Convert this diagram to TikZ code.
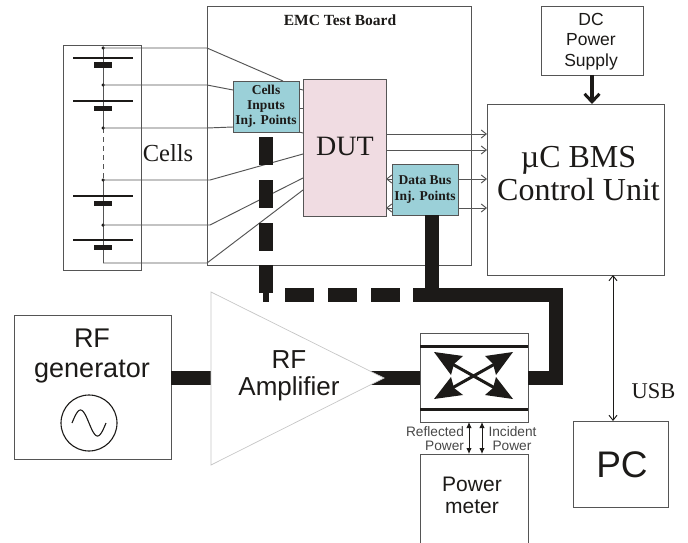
\documentclass[tikz,border=0pt]{standalone}
\usepackage{fontspec}
\setmainfont{Liberation Serif}
\setsansfont{Liberation Sans}
\usetikzlibrary{arrows.meta,calc}
\definecolor{teal1}{RGB}{155,208,216}
\definecolor{pink1}{RGB}{240,220,226}
\definecolor{ink}{RGB}{28,26,24}
\definecolor{wire}{RGB}{85,85,85}
\newcommand{\fs}[1]{\fontsize{#1}{#1}\selectfont}
\tikzset{
  box/.style={draw=wire,line width=0.85pt,inner sep=0pt,outer sep=0pt,fill=white,align=center},
  inj/.style={box,fill=teal1,text=ink,font=\rmfamily\bfseries\fs{13.5}},
  wireline/.style={draw=wire,line width=0.95pt},
  sig/.style={wireline,-{Straight Barb[length=5pt,width=8pt,line width=0.95pt]}},
  sigb/.style={wireline,{Straight Barb[length=5pt,width=8pt,line width=0.95pt]}-{Straight Barb[length=5pt,width=8pt,line width=0.95pt]}},
  power/.style={draw=ink,line width=14pt},
  dashbar/.style={fill=ink,inner sep=0pt,outer sep=0pt,minimum width=14pt,minimum height=28pt},
  dashbarh/.style={fill=ink,inner sep=0pt,outer sep=0pt,minimum width=29pt,minimum height=14pt},
  plate/.style={draw=ink,line width=1.2pt},
  neg/.style={fill=ink,inner sep=0pt,outer sep=0pt,minimum width=18pt,minimum height=5.5pt},
  dotn/.style={circle,fill=ink,inner sep=0pt,minimum size=3.5pt},
  head/.style={fill=ink,draw=none},
  pow/.style={draw=ink,line width=1pt,{Latex[length=6pt,width=5.5pt]}-{Latex[length=6pt,width=5.5pt]}}
}
\begin{document}
\begin{tikzpicture}[x=1pt,y=-1pt]
\useasboundingbox (0,0) rectangle (688,543);
% boards
\node[box,minimum width=264pt,minimum height=259pt] (emc) at (339,135.5) {};
\node[font=\rmfamily\bfseries\fs{15.5},text=ink] (emclabel) at (340,20) {EMC Test Board};
\node[box,minimum width=78pt,minimum height=225pt,fill=none] (cellbox) at (102,157.5) {};
\node[font=\rmfamily\fs{24.5},text=ink] (cellslabel) at (168,153) {Cells};
% coordinates on the battery stack
\coordinate (n1) at (103,48);
\coordinate (n2) at (103,85);
\coordinate (n3) at (103,128);
\coordinate (n4) at (103,180);
\coordinate (n5) at (103,225);
\coordinate (n6) at (103,263);
% battery stack
\draw[wireline] (n1) -- (n3);
\draw[wireline,dashed,dash pattern=on 5pt off 4pt] (n3) -- (n4);
\draw[wireline] (n4) -- (n6);
\foreach \ly/\sy in {58/65,101/108.5,196/203.5,240/247.5}{
  \draw[plate] (73,\ly) -- (133,\ly);
  \node[neg] at (103,\sy) {};
}
\foreach \n in {n1,n2,n3,n4,n5}{\node[dotn] at (\n) {};}
% boxes
\node[box,fill=pink1,minimum width=83pt,minimum height=137pt,inner sep=0pt] (dut) at (344.5,147.5) {};
\node[font=\rmfamily\fs{28},text=ink] (duttext) at (345,146) {DUT};
\node[inj,minimum width=66pt,minimum height=51pt] (cinj) at (266,106.5) {Cells\\[1.5pt]Inputs\\[1.5pt]Inj. Points};
\node[inj,minimum width=66pt,minimum height=51pt] (dinj) at (425,189.5) {Data Bus\\[3pt]Inj. Points};
\node[box,minimum width=177pt,minimum height=171pt] (ctl) at (575.5,189.5) {};
\node[font=\rmfamily\fs{32},text=ink,align=center] (ctltext) at (578.5,173.5) {\textmu C BMS\\[1pt]Control Unit};
\node[box,minimum width=102pt,minimum height=69pt] (dc) at (592,40.5) {};
\node[font=\sffamily\fs{17.5},text=ink,align=center] (dctext) at (591,41.5) {DC\\[3pt]Power\\[3pt]Supply};
% cell wires
\coordinate (b1) at (207,48);
\coordinate (b2) at (207,85);
\coordinate (b3) at (207,128);
\coordinate (b4) at (210,180);
\coordinate (b5) at (210,225);
\coordinate (b6) at (207,263);
\draw[wireline] (n1) -- (b1) -- (283,81);
\draw[wireline] (n2) -- (b2) -- (cinj.west |- 0,90);
\draw[wireline] (n3) -- (b3) -- (cinj.west |- 0,127);
\draw[wireline] (n4) -- (b4) -- (dut.west |- 0,154);
\draw[wireline] (n5) -- (b5) -- (dut.west |- 0,178);
\draw[wireline] (n6) -- (b6) -- (dut.west |- 0,190);
\draw[wireline] (cinj.east |- 0,89) -- (dut.west |- 0,90);
\draw[wireline] (cinj.east |- 0,108) -- (dut.west |- 0,108);
\draw[wireline] (cinj.east |- 0,132) -- (dut.west |- 0,133);
% signal lines
\draw[sig] (dut.east |- 0,134) -- (ctl.west |- 0,134);
\draw[sig] (dut.east |- 0,150) -- (ctl.west |- 0,150);
\draw[sig] (dinj.east |- 0,179) -- (ctl.west |- 0,179);
\draw[sig] (dinj.east |- 0,208) -- (ctl.west |- 0,208);
\draw[sig] (dinj.west |- 0,179) -- (dut.east |- 0,179);
\draw[sig] (dinj.west |- 0,208) -- (dut.east |- 0,208);
\draw[draw=ink,line width=3.5pt,-{Straight Barb[length=8pt,width=15pt,line width=3pt]}] (dc.south) -- (dc.south |- ctl.north);
% amplifier / generator / coupler
\node[box,minimum width=157pt,minimum height=144pt,anchor=north] (gen) at (92.5,315) {};
\node[font=\sffamily\fs{27},text=ink,align=center] (gentext) at (92,356) {RF\\[3pt]generator};
\node[draw=ink,line width=1.1pt,circle,minimum size=56pt,inner sep=0pt] (sine) at (89,423) {};
\draw[draw=ink,line width=1.1pt,domain=0:360,samples=50,smooth] plot ({72+\x/360*34},{423-13*sin(\x)});
\node[box,minimum width=108pt,minimum height=89pt] (coupler) at (474,377.5) {};
\coordinate (busc) at (556,295);
\draw[power] (gen.east |- 0,378) -- (300,378);
\draw[power] (370,378) -- (coupler.west |- 0,378);
\draw[power] (coupler.east |- 0,378) -- (556,378) -- (busc) -- (413,295);
\draw[power] (dinj.south) ++(7,0) -- (432,295);
% dashes
\foreach \yy in {151,194,237,279}{\node[dashbar] at (266,\yy) {};}
\fill[ink] (263,293) rectangle (269,302);
\foreach \xx in {299.5,342.5,385.5}{\node[dashbarh] at (\xx,295) {};}
% triangle
\filldraw[draw=black!22,fill=white,line width=0.7pt] (211,292) -- (384,378) -- (211,465) -- cycle;
\node[font=\sffamily\fs{26},text=ink,align=center] (amp) at (289,376) {RF\\[1pt]Amplifier};
% coupler inner
\draw[draw=ink,line width=3pt] (coupler.west |- 0,346) -- (coupler.east |- 0,346);
\draw[draw=ink,line width=3pt] (coupler.west |- 0,409) -- (coupler.east |- 0,409);
\draw[draw=ink,line width=3pt] (445,360) -- (502,392);
\draw[draw=ink,line width=3pt] (502,360) -- (445,392);
\fill[head] (434,352) -- (463,356) -- (454,364) -- (451,375) -- cycle;
\fill[head] (513,352) -- (485,356) -- (493,364) -- (496,375) -- cycle;
\fill[head] (434,399) -- (463,395) -- (454,388) -- (451,377) -- cycle;
\fill[head] (513,399) -- (485,395) -- (493,388) -- (496,377) -- cycle;
% power meter
\node[box,minimum width=108pt,minimum height=89pt] (meter) at (474,498.5) {};
\node[font=\sffamily\fs{21},text=ink,align=center] (metertext) at (472,495) {Power\\[1pt]meter};
\draw[pow] (469,422) -- (469,454);
\draw[pow] (482,422) -- (482,454);
\node[font=\sffamily\fs{13.7},text=black!72,anchor=east,align=right] (refl) at (467.5,438.5) {Reflected\\[1pt]Power\hspace{4pt}};
\node[font=\sffamily\fs{13.7},text=black!72,anchor=west,align=left] (inc) at (485,438.5) {Incident\\[1pt]\hspace{4pt}Power};
% PC
\node[box,minimum width=95pt,minimum height=86pt] (pc) at (620.5,464) {};
\node[font=\sffamily\fs{37},text=ink] (pctext) at (622,465) {PC};
\draw[sigb,draw=ink] (ctl.south -| 613,0) -- (pc.north -| 613,0);
\node[font=\rmfamily\fs{22.5},text=ink] (usb) at (653.5,391) {USB};
\end{tikzpicture}
\end{document}
